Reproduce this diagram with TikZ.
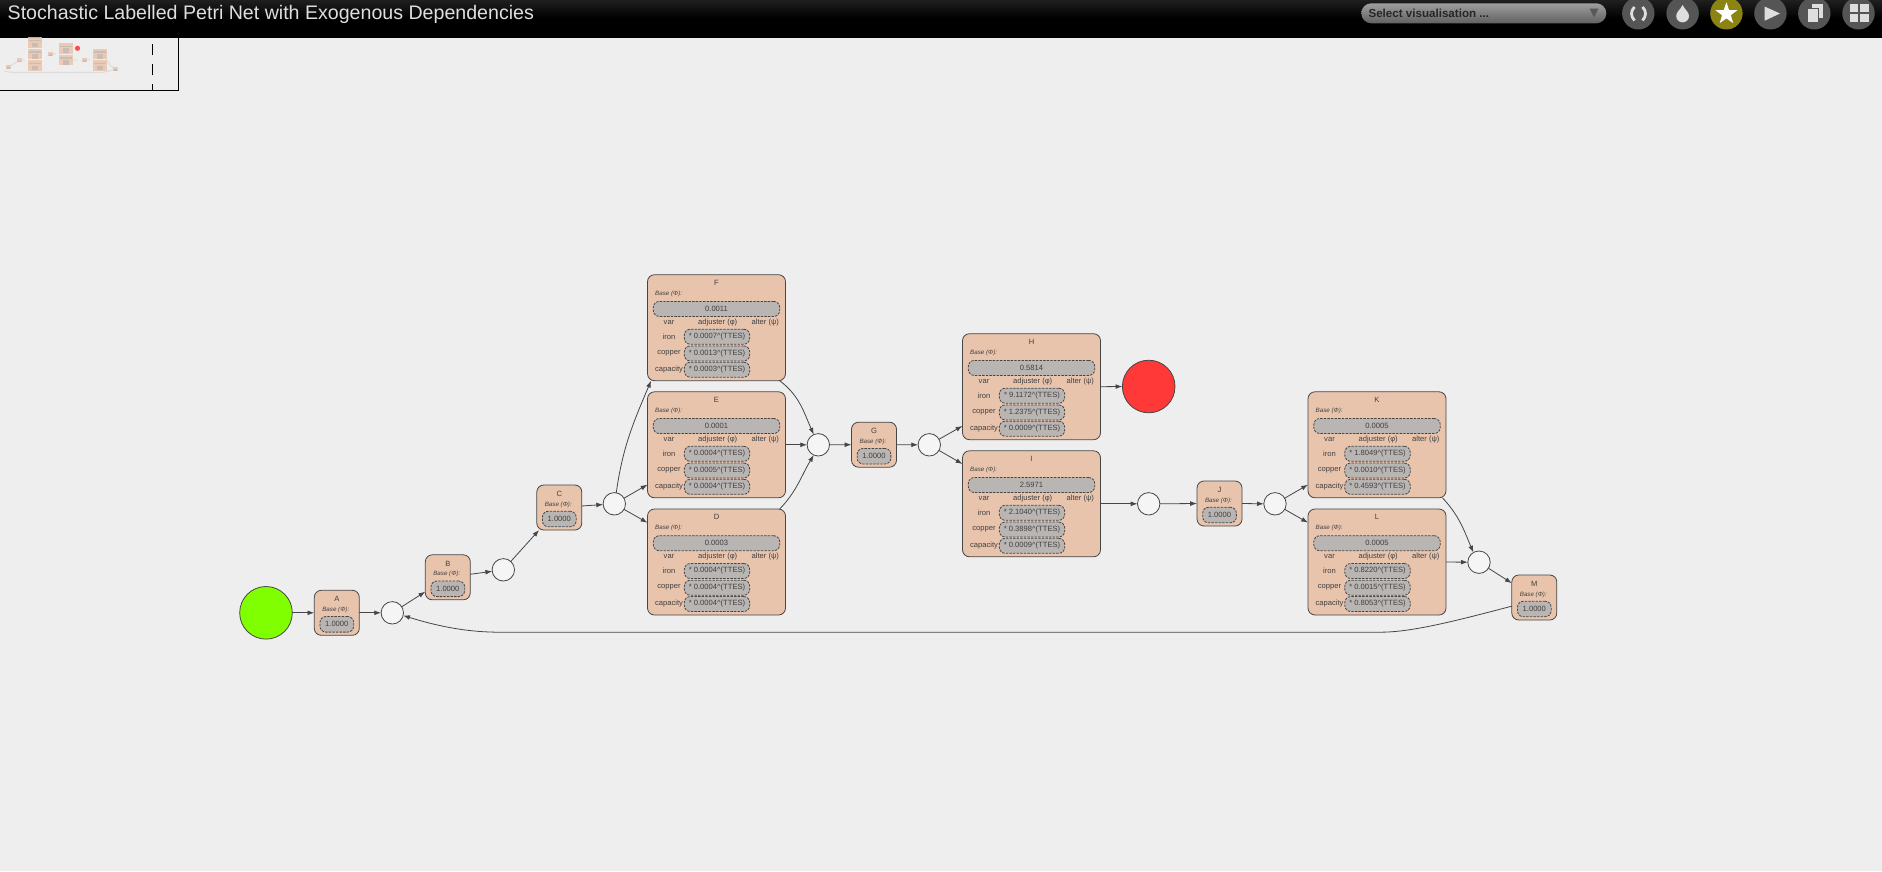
\documentclass[tikz,border=0pt]{standalone}
\usepackage{fontspec}
\setmainfont{Liberation Sans}
\usetikzlibrary{arrows.meta,shapes.geometric}
\definecolor{pagebg}{HTML}{EEEEEE}
\definecolor{transfill}{HTML}{E9C4AD}
\definecolor{pillfill}{HTML}{B9B5B3}
\definecolor{linecol}{HTML}{464646}
\definecolor{iconbg}{HTML}{555555}
\definecolor{iconfg}{HTML}{DEDEDE}
\definecolor{olive}{HTML}{8C8412}
\tikzset{
  trans/.style={draw=linecol,fill=transfill,line width=0.8pt,rounded corners=7pt,inner sep=0pt,outer sep=0pt},
  bigtrans/.style={trans,minimum width=138pt,minimum height=106pt},
  smalltrans/.style={trans,minimum width=45pt,minimum height=45pt},
  place/.style={circle,draw=linecol,fill=white!40!pagebg,line width=0.8pt,minimum size=22.4pt,inner sep=0pt,outer sep=0pt},
  endplace/.style={circle,draw=linecol,line width=0.8pt,minimum size=52.6pt,inner sep=0pt,outer sep=0pt},
  pill/.style={draw=linecol,fill=pillfill,line width=0.8pt,dash pattern=on 2.4pt off 1.2pt,rounded corners=6pt,inner sep=0pt,text=black!75,font=\fontsize{7.6}{8}\selectfont},
  txt/.style={inner sep=0pt,text=black!75,font=\fontsize{7.6}{8}\selectfont},
  basetxt/.style={inner sep=0pt,text=black!75,font=\fontsize{6.2}{7}\itshape\selectfont},
  arc/.style={draw=linecol,line width=0.8pt,-{Latex[length=6.8pt,width=4.8pt]}},
  iconball/.style={circle,fill=iconbg,minimum size=32.4pt,inner sep=0pt},
}
% transition with a table of adjusters
\newcommand{\bigbox}[8]{
  \begin{scope}[shift={(#2,#3)}]
    \node [bigtrans] (#1) at (0,0) {};
    \node [txt] (#1name) at (0,44.7) {#4};
    \node [basetxt,anchor=west] (#1base) at (-61.5,33.7) {Base (Φ):};
    \node [pill,minimum width=126.4pt,minimum height=15pt] (#1value) at (0,18.8) {#5};
    \node [txt] (#1var) at (-47.5,5.3) {var};
    \node [txt] (#1adj) at (1.2,5.3) {adjuster (φ)};
    \node [txt] (#1alt) at (48.8,5.3) {alter (ψ)};
    \foreach \vname/\vy/\vadj in {iron/-9/#6,copper/-25.7/#7,capacity/-42/#8} {
      \node [txt] (#1\vname) at (-47.5,\vy) {\vname};
      \node [pill,minimum width=65.4pt,minimum height=15pt] (#1\vname val) at (0.5,\vy) {* \vadj\textasciicircum(TTES)};
    }
  \end{scope}
}
% transition with the base weight only
\newcommand{\smallbox}[3]{
  \begin{scope}[shift={(#2,#3)}]
    \node [smalltrans] (#1) at (0,0) {};
    \node [txt] (#1name) at (0,13.6) {#1};
    \node [basetxt] (#1base) at (-1,3) {Base (Φ):};
    \node [pill,minimum width=33.7pt,minimum height=15.6pt] (#1value) at (0,-11.5) {1.0000};
  \end{scope}
}
\begin{document}
\begin{tikzpicture}[x=1pt,y=1pt]
    \useasboundingbox (0,0) rectangle (1882,-871);
    \fill [pagebg] (0,0) rectangle (1882,-871);

    % header bar
    \shade [top color=black!88,bottom color=black,middle color=black] (0,0) rectangle (1882,-37);
    \node [inner sep=0pt,anchor=west,text=iconfg,font=\fontsize{19.6}{24}\selectfont] (title) at (7.5,-14) {Stochastic Labelled Petri Net with Exogenous Dependencies};
    \node [rounded corners=10pt,minimum width=245pt,minimum height=20pt,inner sep=0pt,top color=black!38,bottom color=black!62] (select) at (1483.8,-13.3) {};
    \node [inner sep=0pt,anchor=west,text=black!85,font=\fontsize{11.6}{13}\bfseries\selectfont] (selecttxt) at (1368.3,-13.3) {Select visualisation ...};
    \fill [black!65] (1589.5,-8.5) -- (1598.5,-8.5) -- (1594,-17.5) -- cycle;
    \node [iconball] (sync) at (1638.3,-13.3) {};
    \node [iconball] (drop) at (1682.6,-13.3) {};
    \node [iconball,fill=olive] (favour) at (1726.4,-13.3) {};
    \node [iconball] (play) at (1770.4,-13.3) {};
    \node [iconball] (copies) at (1814.3,-13.3) {};
    \node [iconball] (grid) at (1858.5,-13.3) {};
    \draw [iconfg,line width=2.8pt] (1634.5,-7) .. controls (1630.5,-11) and (1630.5,-16) .. (1634.5,-20.5);
    \draw [iconfg,line width=2.8pt] (1642.5,-7) .. controls (1646.5,-11) and (1646.5,-16) .. (1642.5,-20.5);
    \fill [iconfg] (1682.6,-5) .. controls (1685,-10) and (1689,-12) .. (1689,-16) arc (0:-180:6.4) .. controls (1676.2,-12) and (1680,-10) .. cycle;
    \node [star,star points=5,star point ratio=2.5,fill=white,minimum size=23pt,inner sep=0pt] (star) at (1726.4,-13.8) {};
    \fill [iconfg] (1764.5,-6.5) -- (1780,-13.5) -- (1764.5,-20.8) -- cycle;
    \fill [iconfg] (1811.8,-4) rectangle (1823,-18);
    \draw [iconbg,fill=iconfg,line width=0.9pt] (1807,-8) rectangle (1818,-22.5);
    \foreach \gx in {1849.9,1860.4} {
      \foreach \gy in {-4,-13.8} {
        \fill [iconfg] (\gx,\gy) rectangle ++(8.5,-8.2);
      }
    }

    % overview in the corner
    \begin{scope}[opacity=0.85]
      \clip (0,-37) rectangle (178,-90);
      \begin{scope}[shift={(-35.5,-10.3)},scale=0.0984]
        \draw [black!14,line width=1.2pt] (1512,-605) .. controls (1440,-625) and (1400,-632) .. (1380,-632) -- (500,-632) .. controls (470,-632) and (440,-624) .. (404,-615);
        \draw [black!4,line width=1.2pt] (614,-503) .. controls (625,-450) and (630,-410) .. (651,-381);
        \draw [black!4,line width=1.2pt] (780,-380) .. controls (800,-395) and (810,-415) .. (818,-444) .. controls (810,-475) and (800,-490) .. (780,-508);
        \draw [black!14,line width=1pt] (448,-577) -- (559,-507) -- (614,-503) (874,-444) -- (929,-444) (1100,-503) -- (1148,-503) (1219,-503) -- (1275,-503) (1445,-497) -- (1479,-561) -- (1534,-597);
        \foreach \bx/\by in {716.5/-327,716.5/-444.3,716.5/-561.5,1031.5/-386,1031.5/-503.3,1377/-444.3,1377/-561.5} {
          \fill [transfill] (\bx-69,\by-53) rectangle (\bx+69,\by+53);
          \fill [pillfill!70!transfill] (\bx-63,\by+26) rectangle (\bx+63,\by+11);
          \fill [pillfill!70!transfill] (\bx-32,\by-2) rectangle (\bx+33,\by-49);
        }
        \foreach \bx/\by in {336.8/-612.3,448/-577,559.3/-507,874/-444.2,1219.5/-503,1534.3/-597} {
          \fill [transfill] (\bx-22.5,\by-22.5) rectangle (\bx+22.5,\by+22.5);
          \fill [pillfill!70!transfill] (\bx-16,\by-4) rectangle (\bx+16,\by-19);
        }
        \fill [red!80!white] (1148.7,-386) circle (26.3);
      \end{scope}
    \end{scope}
    \draw [black,line width=1pt] (178,-37) -- (178,-90) -- (0,-90);
    \draw [black,line width=1pt,dash pattern=on 10.5pt off 9.5pt] (152.7,-44) -- (152.7,-90);

    \begin{scope}[yshift=-0.5pt]
    % places
    \node [endplace,fill={rgb,255:red,128;green,255;blue,0}] (start) at (266,-612.3) {};
    \node [endplace,fill={rgb,255:red,255;green,56;blue,56}] (stop) at (1148.7,-386) {};
    \node [place] (p1) at (392.3,-612.3) {};
    \node [place] (p2) at (503.3,-569.3) {};
    \node [place] (p3) at (614.3,-503.3) {};
    \node [place] (p4) at (818.3,-444.3) {};
    \node [place] (p5) at (929.3,-444.3) {};
    \node [place] (p6) at (1148.7,-503.3) {};
    \node [place] (p7) at (1275,-503.3) {};
    \node [place] (p8) at (1479,-561.7) {};

    % transitions
    \smallbox{A}{336.8}{-612.3}
    \smallbox{B}{447.8}{-576.8}
    \smallbox{C}{559.3}{-507}
    \smallbox{G}{874}{-444.2}
    \smallbox{J}{1219.5}{-503}
    \smallbox{M}{1534.3}{-597}
    \bigbox{F}{716.5}{-327.2}{F}{0.0011}{0.0007}{0.0013}{0.0003}
    \bigbox{E}{716.5}{-444.3}{E}{0.0001}{0.0004}{0.0005}{0.0004}
    \bigbox{D}{716.5}{-561.5}{D}{0.0003}{0.0004}{0.0004}{0.0004}
    \bigbox{H}{1031.5}{-386.2}{H}{0.5814}{9.1172}{1.2375}{0.0009}
    \bigbox{I}{1031.5}{-503.3}{I}{2.5971}{2.1040}{0.3898}{0.0009}
    \bigbox{K}{1377}{-444.3}{K}{0.0005}{1.8049}{0.0010}{0.4593}
    \bigbox{L}{1377}{-561.5}{L}{0.0005}{0.8220}{0.0015}{0.8053}

    % arcs
    \draw [arc] (start.east) -- (A.west);
    \draw [arc] (A.east) -- (p1.west);
    \draw [arc] (p1) -- (B);
    \draw [arc] (B) -- (p2);
    \draw [arc] (p2) -- (C);
    \draw [arc] (C) -- (p3);
    \draw [arc] (p3.80) to [out=82,in=-113] (F.219);
    \draw [arc] (p3) -- (E);
    \draw [arc] (p3) -- (D);
    \draw [arc] (F.-40) to [out=-37,in=114] (p4.114);
    \draw [arc] (E.east) -- (p4.west);
    \draw [arc] (D.40) to [out=46,in=-121] (p4.-114);
    \draw [arc] (p4.east) -- (G.west);
    \draw [arc] (G.east) -- (p5.west);
    \draw [arc] (p5) -- (H);
    \draw [arc] (p5) -- (I);
    \draw [arc] (H.east) -- (stop.west);
    \draw [arc] (I.east) -- (p6.west);
    \draw [arc] (p6.east) -- (J.west);
    \draw [arc] (J.east) -- (p7.west);
    \draw [arc] (p7) -- (K);
    \draw [arc] (p7) -- (L);
    \draw [arc] (K.-39) to [out=-47,in=113] (p8.120);
    \draw [arc] (L.east) -- (p8.west);
    \draw [arc] (p8) -- (M);
    \coordinate (backR) at (1380,-631.7);
    \coordinate (backL) at (500,-631.7);
    \draw [arc] (M.201) .. controls (1450,-622) and (1410,-631.7) .. (backR) -- (backL) .. controls (470,-631.7) and (442,-627) .. (p1.-14);
    \end{scope}
\end{tikzpicture}
\end{document}
